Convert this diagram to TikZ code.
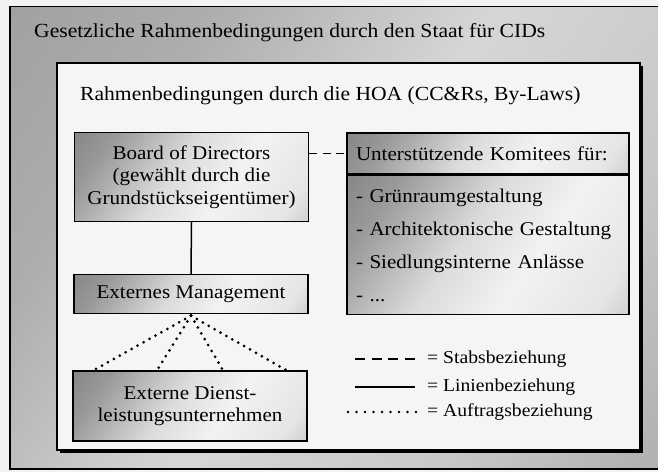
\documentclass[tikz,border=0pt]{standalone}
\usepackage{fontspec}
\setmainfont[FakeStretch=1.08]{Liberation Serif}
\usetikzlibrary{calc}

% diagonal grey-to-light fill of the boxes
\pgfdeclarehorizontalshading{boxshade}{100bp}{%
  color(0bp)=(black!58); color(25bp)=(black!40); color(45bp)=(black!14);
  color(60bp)=(black!5); color(78bp)=(black!10); color(100bp)=(black!38)}
% grey field of the outer frame
\pgfdeclarehorizontalshading{fieldshade}{100bp}{%
  color(0bp)=(black!42); color(30bp)=(black!32); color(50bp)=(black!16);
  color(70bp)=(black!22); color(100bp)=(black!40)}

\tikzset{
  frameline/.style={line width=1.2pt},
  orgbox/.style={draw, line width=1.4pt, shading=boxshade, shading angle=-35,
    inner sep=0pt, align=center, font=\fontsize{19.5}{22.5}\selectfont},
  listbox/.style={orgbox, align=left, inner xsep=9pt, text width=264pt},
  staff/.style={line width=1.6pt, dash pattern=on 8pt off 5.5pt},
  linerel/.style={line width=1.5pt},
  order/.style={line width=3pt, line cap=round, dash pattern=on 0pt off 6.8pt},
  label/.style={anchor=base west, inner sep=0pt, font=\fontsize{20}{24}\selectfont},
  legendtext/.style={label, font=\fontsize{18.2}{22}\selectfont},
}

\begin{document}
\begin{tikzpicture}[x=1pt,y=-1pt]
\useasboundingbox (0,0) rectangle (658,472);
\fill[black!5] (0,0) rectangle (658,472);

% state level: grey field with frame
\shade[shading=fieldshade, shading angle=-35] (10,6) rectangle (658,469);
\draw[frameline] (658,6.5) -- (10,6.5) -- (10,469) -- (658,469);
\node[label] (state) at (34,37)
  {Gesetzliche Rahmenbedingungen durch den Staat für CIDs};

% HOA level: light field with shadowed frame
\fill[black] (59.5,65.5) rectangle (642.5,452.5);
\draw[frameline, fill=black!4] (57,63) rectangle (640,450);
\node[label] (hoa) at (80,100)
  {Rahmenbedingungen durch die HOA (CC\&Rs, By-Laws)};

% organisation boxes
\node[orgbox, minimum width=234pt, minimum height=89pt] (board) at (191.5,177)
  {Board of Directors\\(gewählt durch die\\Grundstückseigentümer)};
\node[orgbox, minimum width=234pt, minimum height=39pt] (em) at (191,294)
  {Externes Management};
\node[orgbox, minimum width=234pt, minimum height=70pt] (ext) at (190,406)
  {Externe Dienst-\\leistungsunternehmen};

% committees
\node[listbox, minimum height=41pt] (komhead) at (488,153.5)
  {Unterstützende Komitees für:};
\node[listbox, minimum height=139pt, font=\fontsize{19.5}{33}\selectfont,
  anchor=north] (kombody) at (komhead.south)
  {- Grünraumgestaltung\\- Architektonische Gestaltung\\- Siedlungsinterne Anlässe\\- ...};

% relations
\draw[staff] (board.east |- komhead.west) -- (komhead.west);
\draw[linerel] (board.south) -- (em.north);
\coordinate (hub) at ($(em.south)+(0,1.5)$);
\foreach \t in {0.09,0.36,0.64,0.91}
  \draw[order] (hub) -- ($(ext.north west)!\t!(ext.north east)$);

% legend
\coordinate (l1a) at (355,359); \coordinate (l1b) at (415,359);
\coordinate (l2a) at (355,387); \coordinate (l2b) at (415,387);
\coordinate (l3a) at (348,412); \coordinate (l3b) at (416,412);
\draw[staff, line width=2pt, dash pattern=on 10pt off 6.7pt] (l1a) -- (l1b);
\draw[linerel, line width=1.8pt] (l2a) -- (l2b);
\draw[order, line width=2.8pt, dash pattern=on 0pt off 8.5pt] (l3a) -- (l3b);
\node[legendtext] (t1) at (427,363) {= Stabsbeziehung};
\node[legendtext] (t2) at (427,391) {= Linienbeziehung};
\node[legendtext] (t3) at (427,416) {= Auftragsbeziehung};
\end{tikzpicture}
\end{document}
